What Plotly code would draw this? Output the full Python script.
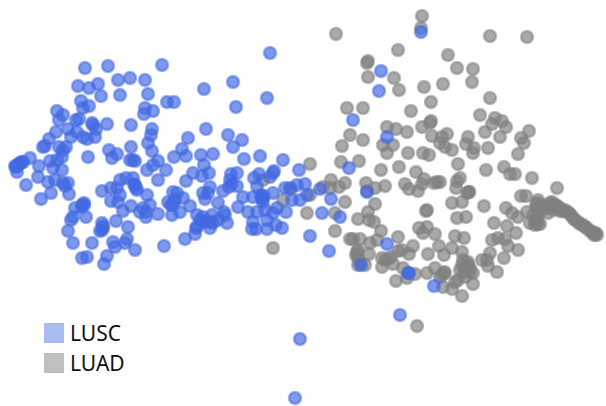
import plotly.graph_objects as go

series_names = ["LUSC", "LUAD"]
series_colors = ["#4169e1", "#808080"]
legend_swatches = ["#a9bcf0", "#bfbfbf"]

lusc_pts = [
(85,68),(108,66),(162,65),(78,86),(89,88),(98,84),(101,96),(118,80),(130,78),(145,80),(120,95),(148,94),(167,102),(174,102),(81,101),(89,106),(83,108),(57,111),(63,115),(59,120),(145,108),(153,111),(144,114),(79,119),(76,120),(92,123),(93,125),(107,124),(131,125),(96,129),(152,129),(151,135),(148,143),(56,132),(68,129),(77,132),(71,137),(83,137),(95,137),(87,139),(49,139),(45,146),(43,147),(59,147),(66,147),(63,150),(188,138),(131,147),(109,150),(117,154),(112,158),(152,151),(182,149),(186,156),(174,157),(62,157),(88,157),(130,160),(133,160),(135,161),(50,161),(57,160),(30,158),(23,162),(20,163),(17,166),(15,166),(17,172),(39,166),(53,168),(62,170),(158,161),(153,165),(147,170),(166,170),(38,177),(26,185),(48,182),(55,180),(158,180),(186,181),(193,173),(63,183),(68,183),(65,186),(41,199),(51,193),(69,194),(120,180),(126,178),(133,178),(135,185),(137,190),(102,191),(111,188),(117,188),(120,195),(147,195),(111,201),(118,202),(131,206),(123,211),(84,203),(82,207),(75,208),(86,217),(73,217),(71,220),(68,231),(73,243),(92,243),(102,223),(103,228),(100,231),(116,221),(128,227),(127,239),(125,243),(113,242),(115,247),(135,250),(107,256),(104,264),(87,257),(82,258),(164,246),(185,239),(195,234),(197,227),(143,208),(150,205),(146,217),(158,214),(140,212),(168,202),(173,192),(177,193),(172,215),(180,212),(190,206),(183,198),(173,205),(197,215),
(270,53),(233,82),(204,89),(267,98),(236,107),(206,129),(228,135),(242,140),(233,147),(213,154),(201,155),(204,165),(209,173),(202,176),(244,159),(260,156),(283,160),(299,170),(231,174),(237,173),(230,180),(229,187),(237,186),(254,178),(259,174),(257,186),(270,177),(274,171),(273,173),(210,187),(208,193),(203,193),(205,199),(223,191),(218,203),(238,207),(243,197),(253,197),(262,197),(263,202),(273,193),(285,188),(290,188),(297,185),(305,184),(300,200),(292,200),(307,195),(320,189),(331,199),(322,213),(340,217),(310,236),(329,251),(224,212),(225,215),(227,223),(218,220),(212,215),(203,217),(210,228),(196,228),(203,222),(213,223),(248,212),(257,212),(267,220),(253,222),(252,229),(256,229),(267,229),(282,228),(276,225),(277,208),(286,212),(273,213),(265,210),
(421,32),(381,71),(379,91),(353,120),(387,137),(349,168),(367,192),(387,244),(361,265),(408,273),(409,273),(434,286),(400,315),(300,339),(295,398),
(103,226),(102,230),(84,205),(82,205),(19,164),(22,162),(16,167),(262,199),(264,196),(261,195),(205,221),(210,222),(200,220),(146,212),(171,205),(175,200),(134,184),(136,188),(232,184),
]

luad_pts = [
(310,164),(347,108),(342,146),(341,162),(350,135),(263,180),(291,189),(283,200),(310,195),(307,213),(331,180),(323,187),(330,188),(339,187),(345,183),(345,202),(335,213),(335,231),(273,248),(350,239),
(422,16),(421,28),(336,34),(398,50),(448,55),(457,68),(368,61),(367,63),(368,77),(394,78),(399,90),(424,87),(443,84),(431,102),(363,108),(411,111),(431,121),(430,123),(422,127),(387,127),(396,129),(407,132),(432,136),(447,134),(442,137),(440,143),(445,147),(452,150),(363,140),(383,145),(393,145),(387,153),(408,153),(423,153),(429,155),(359,161),(458,164),(381,170),(399,167),(416,172),
(490,36),(527,37),(473,69),(472,82),(490,98),(480,115),(495,118),(492,124),(502,121),(506,127),(485,132),(500,137),(529,131),(521,138),(524,143),(518,154),(488,148),(468,137),(466,144),(474,148),(473,153),(486,170),(504,167),(510,174),(515,174),(532,178),(557,188),(460,178),(457,181),(456,188),(469,192),(469,192),(440,182),
(366,183),(375,188),(385,186),(367,191),(405,184),(409,189),(418,191),(422,184),(424,179),(434,183),(437,182),(467,193),(452,203),(462,202),(375,204),(368,212),(358,219),(369,220),(374,222),(426,211),(427,210),(457,218),(466,217),(381,231),(353,239),(360,239),(370,243),(377,240),(398,237),(419,228),(427,227),(423,233),(435,234),(455,236),(464,238),(439,246),(452,248),(462,252),(413,246),(402,250),(409,254),(398,251),(428,254),(444,255),(357,252),(369,254),(358,258),(358,265),(365,265),(382,258),(388,259),(382,267),(393,264),(403,268),(415,274),(396,281),(407,278),(427,273),(435,268),(442,275),(445,273),(452,289),(443,287),(462,296),(417,326),(455,282),
(484,206),(521,196),(526,196),(506,208),(512,213),(537,203),(537,208),(527,212),(518,217),(552,202),(547,208),(550,203),(553,210),(560,208),(565,210),(569,213),(573,218),(578,222),(583,225),(587,228),(592,232),(595,234),(597,235),(594,235),(494,223),(507,226),(516,233),(530,223),(537,220),(535,225),(540,224),(492,240),(498,238),(505,239),(508,246),(518,250),(504,258),(490,253),(487,260),(482,260),(488,266),(497,272),(463,260),(468,265),(460,270),(470,268),(473,273),(465,277),(458,280),(473,284),(542,205),(540,212),(548,213),(533,215),(556,205),(562,211),
(465,268),(462,265),(468,262),(470,272),(464,272),(440,277),(444,272),(356,255),(360,262),(358,250),(385,260),(391,257),(536,205),(538,200),(535,222),(537,218),(538,224),(555,206),(553,205),(558,207),(560,211),(567,212),(571,215),(575,220),(580,224),(585,227),(590,231),(596,233),
]

fig = go.Figure()
for name, color, pts in [(series_names[1], series_colors[1], luad_pts), (series_names[0], series_colors[0], lusc_pts)]:
    r, g, b = int(color[1:3], 16), int(color[3:5], 16), int(color[5:7], 16)
    fig.add_trace(go.Scatter(
        x=[p[0] for p in pts], y=[p[1] for p in pts], mode="markers", name=name,
        marker=dict(size=12, color=f"rgba({r},{g},{b},0.68)",
                    line=dict(width=2.5, color=f"rgba({r},{g},{b},0.5)")),
    ))

for i, (name, sw) in enumerate(zip(series_names, legend_swatches)):
    y0 = 323 + 30 * i
    fig.add_shape(type="rect", xref="x", yref="y", x0=44, x1=64, y0=y0, y1=y0 + 20,
                  fillcolor=sw, line_width=0)
    fig.add_annotation(x=70, y=y0 + 9.5, xref="x", yref="y", text=name, showarrow=False,
                       xanchor="left", yanchor="middle", xshift=-2,
                       font=dict(family="Noto Sans", size=21, color="#111111"))

fig.update_layout(
    width=606, height=406, margin=dict(l=0, r=0, t=0, b=0),
    paper_bgcolor="white", plot_bgcolor="white", showlegend=False,
    xaxis=dict(range=[0, 606], visible=False),
    yaxis=dict(range=[406, 0], visible=False),
)
fig.write_html("out.html", config={"displayModeBar": False},
               post_script="document.body.style.margin='0';document.documentElement.style.overflow='hidden';")
